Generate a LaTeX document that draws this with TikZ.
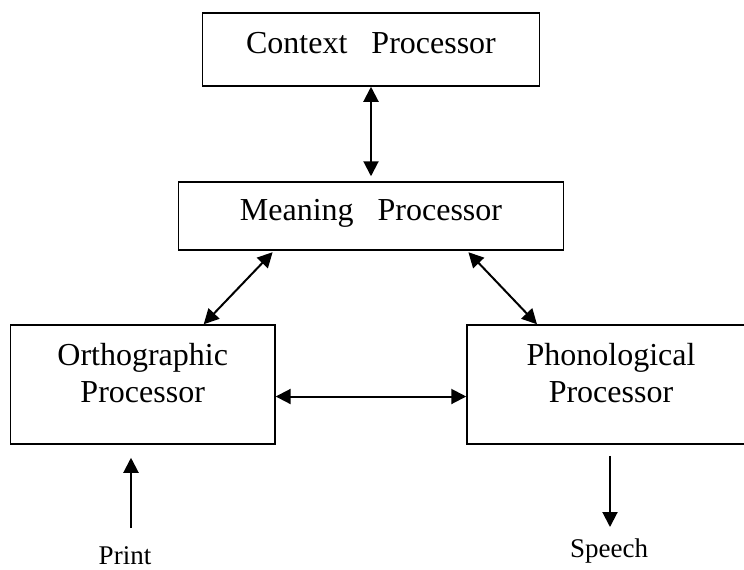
\documentclass[tikz,border=0pt]{standalone}
\usepackage{fontspec}
\setmainfont{Liberation Serif}
\usetikzlibrary{arrows.meta}

\begin{document}
\begin{tikzpicture}[x=0.5pt,y=-0.5pt,
    box/.style={draw,line width=0.75pt,align=center,inner sep=0pt,font=\fontsize{16}{18.5}\selectfont},
    arr/.style={line width=1pt,-{Triangle[length=7.5pt,width=7.5pt]}},
    both/.style={line width=1pt,{Triangle[length=7.5pt,width=7.5pt]}-{Triangle[length=7.5pt,width=7.5pt]}}]
    \useasboundingbox (0,0) rectangle (744,569);
    \clip (0,0) rectangle (744,569);
    \node[box,minimum width=168.5pt,minimum height=36.5pt,text height=10pt,text depth=6.5pt] (context) at (371,49.5) {Context~~~Processor};
    \node[box,minimum width=192.5pt,minimum height=34pt,text height=10pt,text depth=6pt] (meaning) at (371,216) {Meaning~~~Processor};
    \node[box,minimum width=132.25pt,minimum height=59.5pt,text depth=12pt] (ortho) at (142.7,384.5) {Orthographic\\Processor};
    \node[box,minimum width=144pt,minimum height=59.5pt,text depth=12pt] (phon) at (611,384.5) {Phonological\\Processor};
    \node[anchor=base,inner sep=0pt,font=\fontsize{13.5}{16}\selectfont] (print) at (125,564) {Print};
    \node[anchor=base,inner sep=0pt,font=\fontsize{13.5}{16}\selectfont] (speech) at (609,557) {Speech};
    \coordinate (in) at (131,528);
    \coordinate (out) at (610,527);

    \draw[both,shorten >=2.5pt] (context) -- (meaning);
    \draw[both,shorten <=1pt] ([xshift=-48.5pt]meaning.south) -- ([xshift=30.5pt]ortho.north);
    \draw[both,shorten <=1pt] ([xshift=48pt]meaning.south) -- ([xshift=-37pt]phon.north);
    \draw[both] ([yshift=-6pt]ortho.east) -- ([yshift=-6pt]phon.west);
    \draw[arr,shorten >=6.5pt] (in) -- (in |- ortho.south);
    \draw[arr,shorten <=5.5pt] (out |- phon.south) -- (out);
\end{tikzpicture}
\end{document}
